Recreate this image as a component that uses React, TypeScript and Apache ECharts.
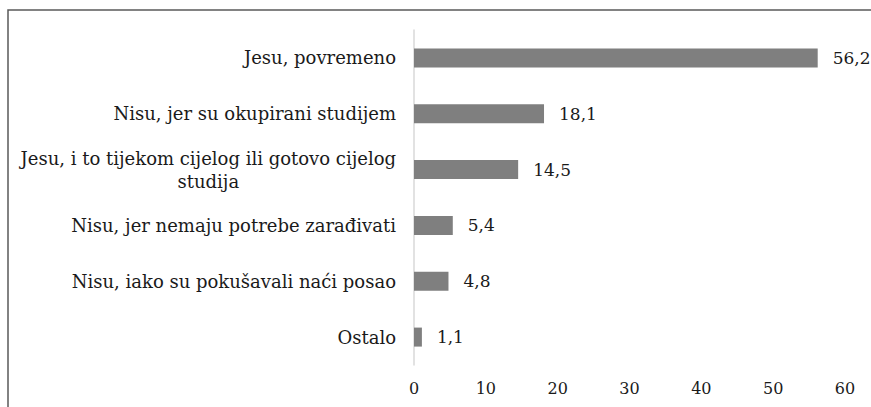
import React, { useEffect, useRef } from "react";
import * as echarts from "echarts";

const categories: string[] = [
  "Jesu, povremeno",
  "Nisu, jer su okupirani studijem",
  "Jesu, i to tijekom cijelog ili gotovo cijelog\nstudija",
  "Nisu, jer nemaju potrebe zarađivati",
  "Nisu, iako su pokušavali naći posao",
  "Ostalo",
];
const values: number[] = [56.2, 18.1, 14.5, 5.4, 4.8, 1.1];
const xTicks = { min: 0, max: 60, interval: 10 };

const FONT = "DejaVu Serif";
const TEXT = "#1a1a1a";

export default function App() {
  const ref = useRef<HTMLDivElement>(null);
  useEffect(() => {
    if (!ref.current) return;
    const chart = echarts.init(ref.current, null, { renderer: "svg" });
    chart.setOption({
      animation: false,
      backgroundColor: "#ffffff",
      textStyle: { fontFamily: FONT },
      graphic: [
        {
          type: "rect",
          shape: { x: 8, y: 10, width: 1000, height: 600 },
          style: { fill: "none", stroke: "#595959", lineWidth: 1.5 },
          silent: true,
          z: 100,
        },
      ],
      grid: { left: 414, right: 26, top: 30, bottom: 42, containLabel: false },
      xAxis: {
        type: "value",
        min: xTicks.min,
        max: xTicks.max,
        interval: xTicks.interval,
        axisLine: { show: false },
        axisTick: { show: false },
        splitLine: { show: false },
        axisLabel: {
          fontFamily: FONT,
          fontSize: 16,
          color: TEXT,
          margin: 15,
        },
      },
      yAxis: {
        type: "category",
        inverse: true,
        data: categories,
        axisLine: { show: true, lineStyle: { color: "#d9d9d9", width: 1.5 } },
        axisTick: { show: false },
        splitLine: { show: false },
        axisLabel: {
          fontFamily: FONT,
          fontSize: 18,
          color: TEXT,
          margin: 18,
          align: "right",
          formatter: (v: string) =>
            v
              .split("\n")
              .map((l) => `{c|${l}}`)
              .join("\n"),
          rich: {
            c: {
              align: "center",
              fontFamily: FONT,
              fontSize: 18,
              color: TEXT,
              lineHeight: 23,
            },
          },
        },
      },
      series: [
        {
          type: "bar",
          data: values,
          barWidth: 19,
          itemStyle: { color: "#7f7f7f" },
          label: {
            show: true,
            position: "right",
            distance: 15,
            fontFamily: FONT,
            fontSize: 17,
            color: TEXT,
            formatter: (p: any) => String(p.value).replace(".", ","),
          },
        },
      ],
    });
    return () => chart.dispose();
  }, []);
  return (
    <div
      ref={ref}
      style={{ position: "absolute", left: 0, top: 0, width: 871, height: 407 }}
    />
  );
}
